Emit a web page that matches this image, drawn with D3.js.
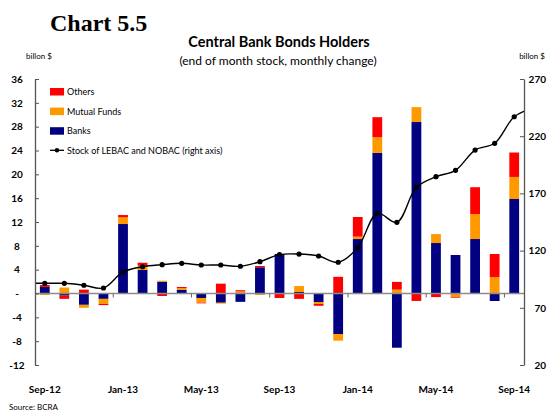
<!DOCTYPE html>
<html>
<head>
<meta charset="utf-8">
<script src="https://cdn.jsdelivr.net/npm/d3@7"></script>
<style>
  html, body { margin: 0; padding: 0; background: #fff; }
  svg { display: block; }
  text { font-family: Lato, "Open Sans", sans-serif; fill: #000; }
</style>
</head>
<body>
<svg id="chart" width="555" height="413"></svg>
<script>
// Monthly categories, Sep-12 .. Sep-14
const months = ["Sep-12","Oct-12","Nov-12","Dec-12","Jan-13","Feb-13","Mar-13","Apr-13","May-13","Jun-13","Jul-13","Aug-13",
  "Sep-13","Oct-13","Nov-13","Dec-13","Jan-14","Feb-14","Mar-14","Apr-14","May-14","Jun-14","Jul-14","Aug-14","Sep-14"];

// Monthly change by holder (billion $)
const banks = [1.1,-0.35,-1.9,-0.9,11.66,3.94,1.98,0.64,-0.75,-1.55,-1.4,4.4,
  6.63,0.25,-1.43,-6.8,9.14,23.6,-9.1,28.78,8.47,6.46,9.14,-1.26,15.86];
const mutualFunds = [-0.25,1.0,-0.5,-0.85,1.12,0.72,0.17,0.28,-0.8,-0.15,0.35,-0.25,
  0,1.0,-0.33,-1.12,0.4,2.63,0.65,2.5,1.5,-0.55,4.2,2.77,3.7];
const others = [0.33,-0.55,0.65,-0.2,0.39,0.5,-0.42,0.17,-0.1,1.65,0.2,0.22,
  -0.75,-0.9,-0.3,2.8,3.3,3.36,1.3,-1.25,-0.6,-0.15,4.5,3.86,4.1];

// End-of-month stock of LEBAC and NOBAC (billion $), with the neighbouring
// months Aug-12 and Oct-14 so the smoothed line runs out to both axes
const stockMonths = ["Aug-12"].concat(months, ["Oct-14"]);
const stock = [91.5,91.4,91.4,89.7,87.3,101.3,105.9,107.7,108.9,107.4,107.4,106.3,110.3,
  116.5,117,115.3,109.8,122.6,152.6,144.7,175.3,184.6,190.2,207.9,213.8,237,245];

// Axis ticks and labels
const leftTicks = [-12,-8,-4,0,4,8,12,16,20,24,28,32,36];
const rightTicks = [20,70,120,170,220,270];
const xLabels = ["Sep-12","Jan-13","May-13","Sep-13","Jan-14","May-14","Sep-14"];

const seriesNames = ["Banks","Mutual Funds","Others"];
const colors = { "Banks": "#000080", "Mutual Funds": "#FF9900", "Others": "#FF0000" };

const rows = months.map((m, i) => ({ month: m, "Banks": banks[i], "Mutual Funds": mutualFunds[i], "Others": others[i] }));

const svg = d3.select("#chart");
const plot = { left: 35, right: 524, top: 79, bottom: 365 };

const x = d3.scaleBand().domain(months).range([plot.left, plot.right])
  .paddingInner(0.5).paddingOuter(0.25);
const yL = d3.scaleLinear().domain([-12, 36]).range([plot.bottom, plot.top]);
const yR = d3.scaleLinear().domain([20, 270]).range([plot.bottom, plot.top]);
const step = x.step();
const xs = d3.scalePoint().domain(stockMonths)
  .range([plot.left - step / 2, plot.right + step / 2]);

// Titles
svg.append("text").attr("x", 50).attr("y", 31)
  .style("font-family", "'Liberation Serif', 'Times New Roman', serif")
  .style("font-weight", "bold").style("font-size", "24px").text("Chart 5.5");
svg.append("text").attr("x", 279).attr("y", 47).attr("text-anchor", "middle")
  .style("font-weight", "bold").style("font-size", "14.5px").text("Central Bank Bonds Holders");
svg.append("text").attr("x", 278).attr("y", 65).attr("text-anchor", "middle")
  .style("font-size", "12px").text("(end of month stock, monthly change)");
svg.append("text").attr("x", 26).attr("y", 59).style("font-size", "8px").text("billon $");
svg.append("text").attr("x", 545).attr("y", 59).attr("text-anchor", "end").style("font-size", "8px").text("billon $");

// Stacked bars (diverging so negatives stack below zero)
const stacked = d3.stack().keys(seriesNames).offset(d3.stackOffsetDiverging)(rows);
svg.append("g").selectAll("g").data(stacked).join("g")
  .attr("fill", d => colors[d.key])
  .selectAll("rect").data(d => d).join("rect")
  .attr("x", d => x(d.data.month))
  .attr("width", x.bandwidth())
  .attr("y", d => yL(Math.max(d[0], d[1])))
  .attr("height", d => Math.abs(yL(d[0]) - yL(d[1])));

// Zero line with month ticks every four months
svg.append("line").attr("x1", plot.left).attr("x2", plot.right)
  .attr("y1", yL(0)).attr("y2", yL(0)).attr("stroke", "#8c8c8c").attr("stroke-width", 1.5);
const tickIdx = [4, 8, 12, 16, 20, 24];
svg.append("g").selectAll("line").data(tickIdx).join("line")
  .attr("x1", i => plot.left + i * step).attr("x2", i => plot.left + i * step)
  .attr("y1", yL(0)).attr("y2", yL(0) + 4).attr("stroke", "#666").attr("stroke-width", 1);

// Stock line on the right axis
svg.append("clipPath").attr("id", "plotClip").append("rect")
  .attr("x", plot.left).attr("y", plot.top - 5)
  .attr("width", plot.right - plot.left).attr("height", plot.bottom - plot.top + 10);
const pts = stockMonths.map((m, i) => ({ month: m, v: stock[i] }));
const line = d3.line().x(d => xs(d.month)).y(d => yR(d.v)).curve(d3.curveCatmullRom.alpha(0.5));
svg.append("path").datum(pts).attr("clip-path", "url(#plotClip)")
  .attr("d", line).attr("fill", "none").attr("stroke", "#000").attr("stroke-width", 1.4);
svg.append("g").selectAll("circle").data(pts.filter(d => months.includes(d.month))).join("circle")
  .attr("cx", d => xs(d.month)).attr("cy", d => yR(d.v)).attr("r", 2.6).attr("fill", "#000");

// Left axis
const gL = svg.append("g").attr("transform", `translate(${plot.left},0)`)
  .call(d3.axisLeft(yL).tickValues(leftTicks).tickSizeInner(-4).tickSizeOuter(0)
    .tickFormat(d => d === 0 ? "-" : d));
gL.select(".domain").attr("stroke", "#555").attr("stroke-width", 1.3);
gL.selectAll(".tick line").attr("stroke", "#555");
gL.selectAll(".tick text").attr("x", -18).attr("text-anchor", "middle")
  .style("font-family", "Lato, sans-serif").style("font-weight", "bold").style("font-size", "10px");

// Right axis
const gR = svg.append("g").attr("transform", `translate(${plot.right},0)`)
  .call(d3.axisRight(yR).tickValues(rightTicks).tickSizeInner(-4).tickSizeOuter(0));
gR.select(".domain").attr("stroke", "#555").attr("stroke-width", 1.3);
gR.selectAll(".tick line").attr("stroke", "#555");
gR.selectAll(".tick text").attr("x", 22).attr("text-anchor", "end")
  .style("font-family", "Lato, sans-serif").style("font-weight", "bold").style("font-size", "10px");

// Category labels
svg.append("g").selectAll("text").data(xLabels).join("text")
  .attr("x", d => x(d) + x.bandwidth() / 2).attr("y", 393)
  .attr("text-anchor", "middle").style("font-weight", "bold").style("font-size", "10px")
  .text(d => d);

// Legend
const legendItems = ["Others", "Mutual Funds", "Banks"];
const lg = svg.append("g").attr("transform", "translate(50,88)");
legendItems.forEach((name, i) => {
  const g = lg.append("g").attr("transform", `translate(0,${i * 19.6})`);
  g.append("rect").attr("width", 14).attr("height", 7.5).attr("fill", colors[name]);
  g.append("text").attr("x", 17).attr("y", 7.2).style("font-size", "9px").text(name);
});
const lgl = lg.append("g").attr("transform", `translate(0,${3 * 19.6 + 3.5})`);
lgl.append("line").attr("x1", 0).attr("x2", 14).attr("stroke", "#000").attr("stroke-width", 1.3);
lgl.append("circle").attr("cx", 7).attr("r", 2.2).attr("fill", "#000");
lgl.append("text").attr("x", 17).attr("y", 3.5).style("font-size", "9px")
  .text("Stock of LEBAC and NOBAC (right axis)");

// Source note
svg.append("text").attr("x", 9).attr("y", 410).style("font-size", "8px").text("Source: BCRA");
</script>
</body>
</html>
